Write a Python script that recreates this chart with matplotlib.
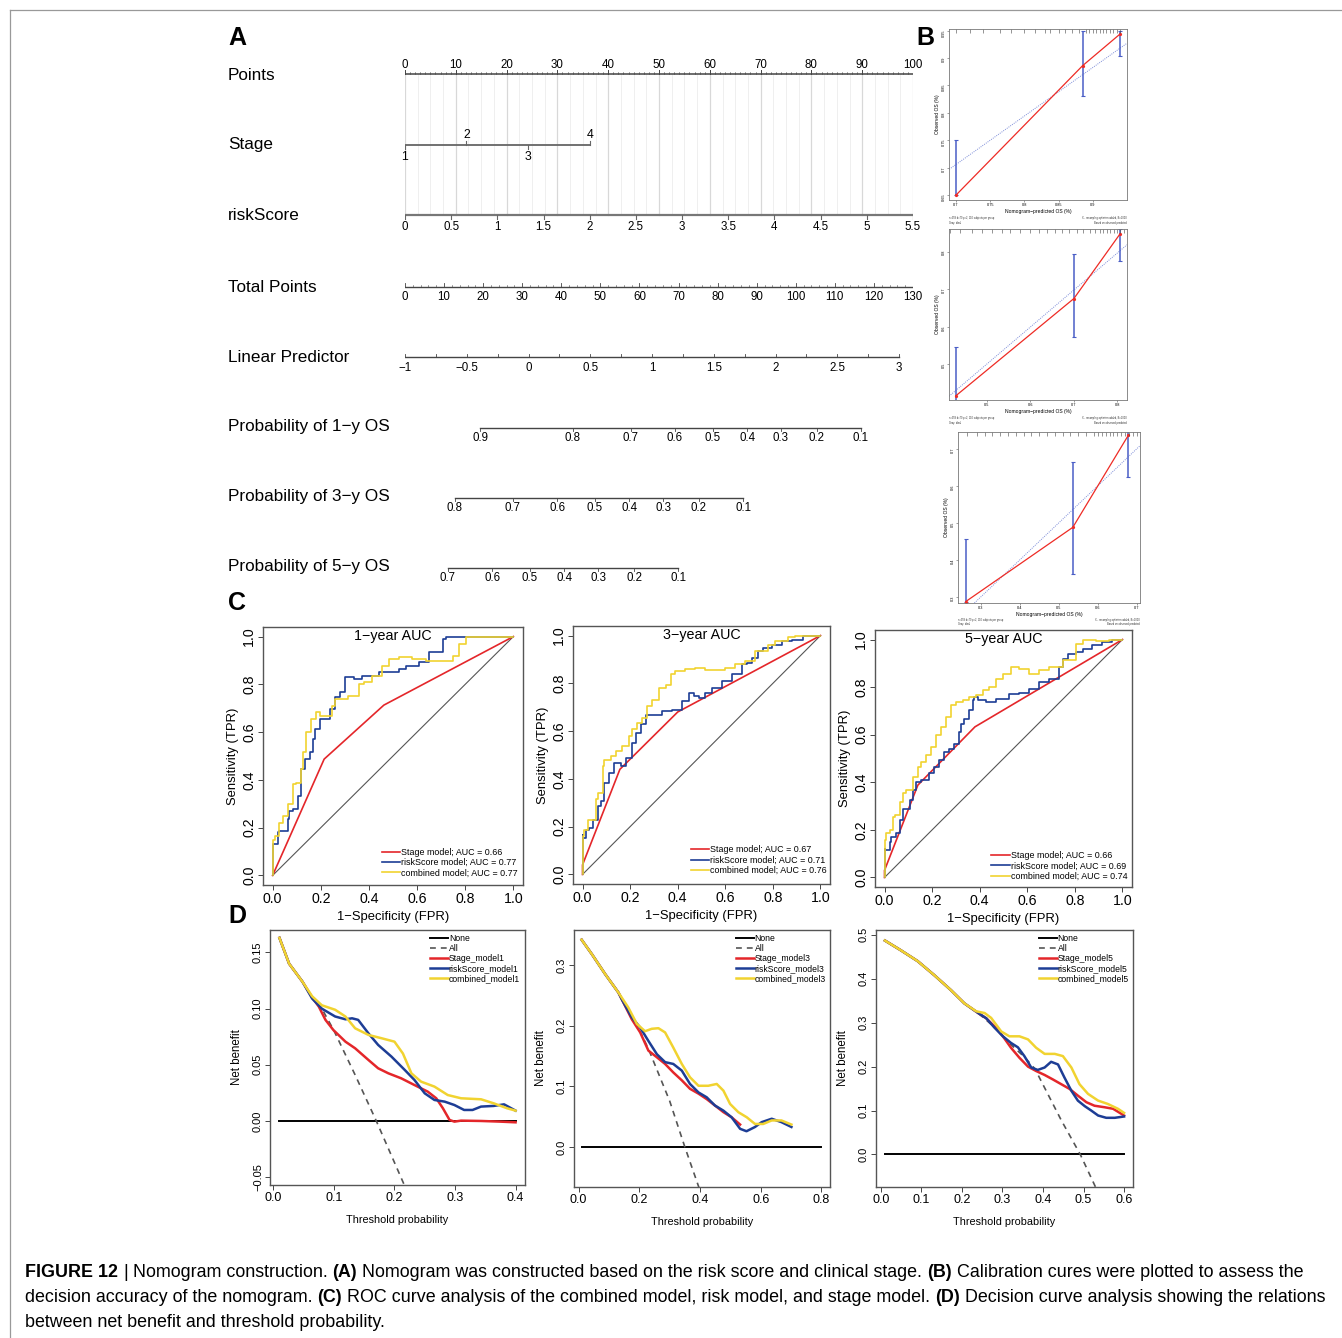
import numpy as np
import matplotlib
matplotlib.use("Agg")
import matplotlib.pyplot as plt
from matplotlib.lines import Line2D

W, H = 1342, 1338
plt.rcParams['font.family'] = ['Liberation Sans', 'DejaVu Sans']
plt.rcParams['axes.unicode_minus'] = True
NARROW = ['Liberation Sans Narrow', 'Liberation Sans', 'DejaVu Sans']
M = '\u2212'

# ======================= DATA =======================
# ---- Panel A: nomogram ----
row_labels = ["Points", "Stage", "riskScore", "Total Points", "Linear Predictor",
              f"Probability of 1{M}y OS", f"Probability of 3{M}y OS", f"Probability of 5{M}y OS"]
points_major = [0, 10, 20, 30, 40, 50, 60, 70, 80, 90, 100]
stage_levels = ["1", "2", "3", "4"]
stage_points = [0.0, 12.1, 24.2, 36.4]
risk_ticks = [0, 0.5, 1, 1.5, 2, 2.5, 3, 3.5, 4, 4.5, 5, 5.5]
risk_ticklabels = ["0", "0.5", "1", "1.5", "2", "2.5", "3", "3.5", "4", "4.5", "5", "5.5"]
risk_max = 5.5                    # riskScore worth 100 points
total_ticks = [0, 10, 20, 30, 40, 50, 60, 70, 80, 90, 100, 110, 120, 130]
total_full = 130.0                # total points at the 100-point width
lp_ticks = [-1, -0.5, 0, 0.5, 1, 1.5, 2, 2.5, 3]
lp_ticklabels = [f"{M}1", f"{M}0.5", "0", "0.5", "1", "1.5", "2", "2.5", "3"]
lp_intercept = -1.0               # linear predictor at 0 total points
lp_per_total = 0.03164            # linear predictor per total point
prob1_ticks = [0.9, 0.8, 0.7, 0.6, 0.5, 0.4, 0.3, 0.2, 0.1]
prob3_ticks = [0.8, 0.7, 0.6, 0.5, 0.4, 0.3, 0.2, 0.1]
prob5_ticks = [0.7, 0.6, 0.5, 0.4, 0.3, 0.2, 0.1]
base_cumhaz = [0.156, 0.405, 0.685]   # baseline cumulative hazard at 1, 3, 5 years

# ---- Panel B: calibration ----
cal1_pred = [0.700, 0.885, 0.940]
cal1_obs = [0.650, 0.886, 0.944]
cal1_lo = [0.650, 0.830, 0.904]
cal1_hi = [0.750, 0.950, 0.950]
cal1_ideal_x = [0.69, 0.95]
cal1_ideal_y = [0.697, 0.927]
cal1_rug = [0.70, 0.72, 0.74, 0.765, 0.78, 0.80, 0.815, 0.83, 0.838, 0.85, 0.86, 0.87,
            0.88, 0.89, 0.895, 0.90, 0.905, 0.91, 0.915, 0.92, 0.925, 0.93, 0.935, 0.94]

cal2_pred = [0.429, 0.700, 0.806]
cal2_obs = [0.4165, 0.675, 0.847]
cal2_lo = [0.38, 0.573, 0.774]
cal2_hi = [0.545, 0.793, 0.86]
cal2_ideal_x = [0.413, 0.822]
cal2_ideal_y = [0.415, 0.818]
cal2_rug = [0.416, 0.439, 0.466, 0.489, 0.512, 0.535, 0.554, 0.577, 0.60, 0.619, 0.638,
            0.657, 0.672, 0.688, 0.707, 0.722, 0.738, 0.749, 0.761, 0.768, 0.776, 0.784,
            0.791, 0.799, 0.807, 0.814]

cal3_pred = [0.262, 0.536, 0.678]
cal3_obs = [0.288, 0.488, 0.736]
cal3_lo = [0.288, 0.362, 0.624]
cal3_hi = [0.456, 0.665, 0.76]
cal3_ideal_x = [0.284, 0.708]
cal3_ideal_y = [0.284, 0.708]
cal3_rug = [0.264, 0.29, 0.31, 0.33, 0.35, 0.37, 0.39, 0.41, 0.43, 0.45, 0.47, 0.49, 0.51,
            0.53, 0.55, 0.57, 0.59, 0.60, 0.61, 0.62, 0.63, 0.64, 0.65, 0.66, 0.67, 0.68,
            0.69, 0.70]

# ---- Panel C: ROC ----
roc1_stage_fpr = [0, 0.214, 0.462, 1.0]
roc1_stage_tpr = [0, 0.487, 0.713, 1.0]
roc1_risk_fpr = [0, 0, 0.021, 0.028, 0.063, 0.07, 0.084, 0.105, 0.119, 0.133, 0.154, 0.168,
                 0.175, 0.196, 0.238, 0.259, 0.28, 0.30, 0.336, 0.371, 0.385, 0.44, 0.468,
                 0.524, 0.552, 0.608, 0.65, 0.664, 0.706, 0.72, 0.748, 0.85, 1.0]
roc1_risk_tpr = [0, 0.11, 0.13, 0.18, 0.186, 0.235, 0.27, 0.277, 0.333, 0.445, 0.487, 0.515,
                 0.57, 0.613, 0.655, 0.697, 0.745, 0.77, 0.83, 0.822, 0.836, 0.836, 0.85,
                 0.85, 0.864, 0.878, 0.892, 0.934, 0.934, 0.99, 1.0, 1.0, 1.0]
roc1_comb_fpr = [0, 0, 0.01, 0.028, 0.042, 0.063, 0.084, 0.098, 0.119, 0.126, 0.14, 0.161,
                 0.182, 0.196, 0.245, 0.259, 0.287, 0.315, 0.357, 0.378, 0.413, 0.455, 0.483,
                 0.524, 0.58, 0.636, 0.678, 0.748, 0.776, 0.804, 0.839, 1.0]
roc1_comb_tpr = [0, 0.095, 0.15, 0.165, 0.22, 0.25, 0.30, 0.382, 0.389, 0.445, 0.515, 0.60,
                 0.655, 0.683, 0.669, 0.71, 0.738, 0.738, 0.752, 0.80, 0.808, 0.836, 0.878,
                 0.906, 0.913, 0.906, 0.899, 0.899, 0.92, 0.97, 1.0, 1.0]

roc3_stage_fpr = [0, 0, 0.157, 0.40, 1.0]
roc3_stage_tpr = [0, 0.04, 0.44, 0.68, 1.0]
roc3_risk_fpr = [0, 0, 0.014, 0.028, 0.042, 0.063, 0.077, 0.091, 0.112, 0.132, 0.16, 0.181,
                 0.209, 0.223, 0.244, 0.265, 0.30, 0.335, 0.377, 0.418, 0.446, 0.467, 0.488,
                 0.516, 0.544, 0.586, 0.628, 0.67, 0.69, 0.711, 0.739, 0.76, 0.795, 0.837,
                 0.879, 0.927, 1.0]
roc3_risk_tpr = [0, 0.167, 0.153, 0.188, 0.195, 0.23, 0.286, 0.307, 0.384, 0.425, 0.467, 0.453,
                 0.488, 0.55, 0.593, 0.628, 0.669, 0.669, 0.683, 0.69, 0.725, 0.76, 0.746,
                 0.739, 0.76, 0.78, 0.809, 0.837, 0.879, 0.886, 0.906, 0.934, 0.948, 0.962,
                 0.976, 0.983, 1.0]
roc3_comb_fpr = [0, 0, 0.007, 0.021, 0.042, 0.056, 0.063, 0.084, 0.091, 0.119, 0.139, 0.167,
                 0.195, 0.209, 0.23, 0.251, 0.272, 0.293, 0.321, 0.349, 0.37, 0.39, 0.432,
                 0.474, 0.516, 0.60, 0.642, 0.683, 0.725, 0.781, 0.809, 0.865, 0.893, 0.962, 1.0]
roc3_comb_tpr = [0, 0.119, 0.16, 0.188, 0.23, 0.23, 0.314, 0.342, 0.453, 0.481, 0.495, 0.516,
                 0.537, 0.579, 0.607, 0.635, 0.656, 0.704, 0.732, 0.781, 0.795, 0.837, 0.851,
                 0.861, 0.865, 0.855, 0.865, 0.879, 0.893, 0.934, 0.962, 0.976, 0.994, 0.997, 1.0]

roc5_stage_fpr = [0, 0, 0.14, 0.38, 1.0]
roc5_stage_tpr = [0, 0.03, 0.388, 0.633, 1.0]
roc5_risk_fpr = [0, 0, 0.003, 0.021, 0.028, 0.049, 0.063, 0.077, 0.105, 0.119, 0.133, 0.154,
                 0.189, 0.21, 0.231, 0.252, 0.273, 0.294, 0.315, 0.322, 0.336, 0.357, 0.371,
                 0.378, 0.392, 0.427, 0.469, 0.524, 0.566, 0.608, 0.65, 0.692, 0.734, 0.748,
                 0.769, 0.804, 0.832, 0.874, 0.916, 0.958, 1.0]
roc5_risk_tpr = [0, 0.045, 0.118, 0.115, 0.15, 0.171, 0.185, 0.241, 0.286, 0.325, 0.367, 0.402,
                 0.409, 0.437, 0.465, 0.493, 0.528, 0.542, 0.563, 0.612, 0.647, 0.668, 0.703,
                 0.745, 0.759, 0.745, 0.738, 0.752, 0.77, 0.776, 0.794, 0.822, 0.836, 0.885,
                 0.92, 0.941, 0.948, 0.962, 0.976, 0.99, 1.0]
roc5_comb_fpr = [0, 0, 0.007, 0.021, 0.035, 0.042, 0.063, 0.077, 0.091, 0.119, 0.14, 0.154,
                 0.175, 0.196, 0.217, 0.238, 0.259, 0.28, 0.301, 0.329, 0.357, 0.385, 0.413,
                 0.441, 0.469, 0.497, 0.531, 0.566, 0.608, 0.65, 0.692, 0.748, 0.804, 0.832,
                 0.888, 0.944, 1.0]
roc5_comb_tpr = [0, 0.073, 0.157, 0.185, 0.199, 0.255, 0.262, 0.318, 0.353, 0.367, 0.423, 0.465,
                 0.486, 0.514, 0.549, 0.598, 0.633, 0.675, 0.724, 0.738, 0.745, 0.759, 0.766,
                 0.787, 0.801, 0.836, 0.857, 0.885, 0.878, 0.857, 0.871, 0.885, 0.913, 0.983,
                 1.0, 0.994, 1.0]

roc_titles = [f"1{M}year AUC", f"3{M}year AUC", f"5{M}year AUC"]
roc_auc = [(0.66, 0.77, 0.77), (0.67, 0.71, 0.76), (0.66, 0.69, 0.74)]

# ---- Panel D: decision curves ----
dca1_none_x = [0.01, 0.40]
dca1_none_y = [0.0, 0.0]
dca1_all_x = [0.01, 0.026, 0.048, 0.064, 0.080, 0.0995, 0.135, 0.17, 0.215, 0.23]
dca1_all_y = [0.163, 0.140, 0.124, 0.110, 0.100, 0.081, 0.041, 0.0, -0.0555, -0.075]
dca1_stage_x = [0.01, 0.026, 0.048, 0.064, 0.075, 0.086, 0.099, 0.119, 0.135, 0.157, 0.173,
                0.190, 0.211, 0.233, 0.255, 0.269, 0.280, 0.291, 0.299, 0.310, 0.343, 0.375, 0.400]
dca1_stage_y = [0.163, 0.140, 0.124, 0.110, 0.1018, 0.090, 0.081, 0.0706, 0.0647, 0.0543,
                0.0469, 0.0424, 0.038, 0.032, 0.0261, 0.0202, 0.0113, 0.0009, -0.0006, 0.0003,
                0.0, -0.0006, -0.0012]
dca1_risk_x = [0.01, 0.026, 0.048, 0.064, 0.080, 0.102, 0.119, 0.130, 0.140, 0.157, 0.173,
               0.195, 0.217, 0.233, 0.250, 0.266, 0.283, 0.299, 0.315, 0.329, 0.343, 0.364,
               0.381, 0.400]
dca1_risk_y = [0.163, 0.140, 0.124, 0.109, 0.100, 0.093, 0.0905, 0.0914, 0.090, 0.078, 0.0677,
               0.0573, 0.0454, 0.0365, 0.0246, 0.0187, 0.0172, 0.0142, 0.0098, 0.0098, 0.0128,
               0.0134, 0.0148, 0.0092]
dca1_comb_x = [0.01, 0.026, 0.048, 0.064, 0.080, 0.102, 0.119, 0.135, 0.157, 0.179, 0.200,
               0.214, 0.228, 0.244, 0.266, 0.288, 0.310, 0.343, 0.364, 0.386, 0.400]
dca1_comb_y = [0.163, 0.140, 0.124, 0.111, 0.103, 0.099, 0.093, 0.0825, 0.0766, 0.0736, 0.0706,
               0.060, 0.0424, 0.035, 0.0306, 0.0231, 0.0202, 0.0193, 0.0157, 0.0113, 0.0092]

dca3_none_x = [0.01, 0.80]
dca3_none_y = [0.0, 0.0]
dca3_all_x = [0.01, 0.044, 0.088, 0.131, 0.175, 0.203, 0.23, 0.30, 0.35, 0.40]
dca3_all_y = [0.342, 0.318, 0.285, 0.255, 0.214, 0.19, 0.162, 0.076, 0.0, -0.072]
dca3_stage_x = [0.01, 0.044, 0.088, 0.131, 0.142, 0.175, 0.203, 0.230, 0.258, 0.285, 0.312,
                0.340, 0.367, 0.395, 0.422, 0.449, 0.477, 0.504, 0.532]
dca3_stage_y = [0.342, 0.318, 0.285, 0.255, 0.244, 0.211, 0.189, 0.159, 0.148, 0.137, 0.123,
                0.110, 0.096, 0.088, 0.079, 0.0685, 0.0575, 0.049, 0.037]
dca3_risk_x = [0.01, 0.044, 0.088, 0.131, 0.142, 0.175, 0.203, 0.230, 0.258, 0.285, 0.312,
               0.340, 0.367, 0.395, 0.422, 0.449, 0.477, 0.504, 0.532, 0.553, 0.581, 0.603,
               0.636, 0.668, 0.701]
dca3_risk_y = [0.342, 0.318, 0.285, 0.255, 0.244, 0.214, 0.197, 0.175, 0.153, 0.140, 0.137,
               0.126, 0.104, 0.090, 0.082, 0.0685, 0.060, 0.049, 0.030, 0.026, 0.033, 0.041,
               0.0466, 0.041, 0.033]
dca3_comb_x = [0.01, 0.044, 0.088, 0.131, 0.164, 0.192, 0.219, 0.241, 0.263, 0.285, 0.312,
               0.340, 0.367, 0.395, 0.427, 0.455, 0.477, 0.499, 0.526, 0.554, 0.581, 0.608,
               0.636, 0.668, 0.701]
dca3_comb_y = [0.342, 0.318, 0.285, 0.255, 0.230, 0.203, 0.191, 0.195, 0.196, 0.189, 0.164,
               0.137, 0.115, 0.101, 0.101, 0.104, 0.093, 0.071, 0.0575, 0.049, 0.038, 0.038,
               0.0438, 0.0438, 0.037]

dca5_none_x = [0.01, 0.60]
dca5_none_y = [0.0, 0.0]
dca5_all_x = [0.01, 0.049, 0.091, 0.132, 0.173, 0.206, 0.240, 0.280, 0.321, 0.354, 0.38,
              0.445, 0.492, 0.53]
dca5_all_y = [0.487, 0.465, 0.440, 0.408, 0.374, 0.344, 0.322, 0.290, 0.250, 0.222, 0.195,
              0.078, 0.0, -0.075]
dca5_stage_x = [0.01, 0.049, 0.091, 0.132, 0.173, 0.206, 0.240, 0.260, 0.280, 0.301, 0.321,
                0.342, 0.363, 0.383, 0.404, 0.424, 0.445, 0.466, 0.486, 0.507, 0.527, 0.552,
                0.573, 0.600]
dca5_stage_y = [0.487, 0.465, 0.440, 0.408, 0.374, 0.344, 0.322, 0.310, 0.292, 0.269, 0.243,
                0.220, 0.200, 0.190, 0.181, 0.171, 0.160, 0.149, 0.134, 0.119, 0.111, 0.1075,
                0.104, 0.0887]
dca5_risk_x = [0.01, 0.049, 0.091, 0.132, 0.173, 0.206, 0.240, 0.260, 0.280, 0.301, 0.321,
               0.338, 0.354, 0.371, 0.387, 0.404, 0.420, 0.437, 0.453, 0.470, 0.486, 0.503,
               0.519, 0.536, 0.556, 0.577, 0.600]
dca5_risk_y = [0.487, 0.465, 0.440, 0.408, 0.374, 0.344, 0.322, 0.310, 0.289, 0.269, 0.254,
               0.244, 0.224, 0.198, 0.1925, 0.198, 0.211, 0.205, 0.175, 0.145, 0.1226, 0.110,
               0.100, 0.0887, 0.0835, 0.0835, 0.0865]
dca5_comb_x = [0.01, 0.049, 0.091, 0.132, 0.173, 0.206, 0.235, 0.256, 0.272, 0.297, 0.317,
               0.342, 0.363, 0.383, 0.404, 0.429, 0.449, 0.470, 0.490, 0.511, 0.536, 0.560,
               0.585, 0.600]
dca5_comb_y = [0.487, 0.465, 0.440, 0.408, 0.374, 0.344, 0.326, 0.322, 0.311, 0.280, 0.269,
               0.269, 0.262, 0.243, 0.229, 0.229, 0.224, 0.198, 0.160, 0.138, 0.1226, 0.115,
               0.104, 0.0947]

caption_lines = [
    [("FIGURE 12", True), (" | ", False), ("Nomogram construction. ", False), ("(A)", True),
     (" Nomogram was constructed based on the risk score and clinical stage. ", False),
     ("(B)", True), (" Calibration cures were plotted to assess the", False)],
    [("decision accuracy of the nomogram. ", False), ("(C)", True),
     (" ROC curve analysis of the combined model, risk model, and stage model. ", False),
     ("(D)", True), (" Decision curve analysis showing the relations", False)],
    [("between net benefit and threshold probability.", False)],
]

# ======================= STYLE =======================
RED = '#E4262A'
BLUE = '#1D3D95'
YEL = '#F1D330'
FRAME = '#555555'

fig = plt.figure(figsize=(W / 100, H / 100), dpi=100)


def add_ax(l, t, r, b):
    return fig.add_axes([l / W, 1 - b / H, (r - l) / W, (b - t) / H])


# figure border
fig.add_artist(Line2D([10 / W, 1], [1 - 10 / H, 1 - 10 / H], transform=fig.transFigure,
                      color='#999999', lw=0.9))
fig.add_artist(Line2D([10 / W, 10 / W], [0, 1 - 10 / H], transform=fig.transFigure,
                      color='#999999', lw=0.9))

# panel letters
for letter, (px, py) in zip("ABCD", [(237, 38), (925, 38), (237, 603), (237, 916)]):
    fig.text(px / W, 1 - py / H, letter, fontsize=18, fontweight='bold', ha='center', va='center')

# ======================= PANEL A =======================
axN = add_ax(405, 20, 913, 600)
axN.set_xlim(0, 100)
axN.set_ylim(600, 20)
axN.axis('off')
row_y = [74, 145, 215, 287, 357, 428, 498, 568]
label_y = [76, 145, 216, 287, 357, 426, 496, 566]
for lab, yy in zip(row_labels, label_y):
    fig.text(228 / W, 1 - yy / H, lab, fontsize=12.3, ha='left', va='center')

TFS = 8.3
LC = '#444444'
# grid lines
for g in np.arange(0, 100.1, 2.5):
    major = abs(g % 10) < 1e-6
    axN.plot([g, g], [row_y[0], row_y[2]], color='#d8d8d8' if major else '#efefef',
             lw=0.9 if major else 0.7, zorder=0)
# Points axis
axN.plot([0, 100], [row_y[0]] * 2, color=LC, lw=1.1)
for p in range(0, 101):
    major = p % 10 == 0
    axN.plot([p, p], [row_y[0], row_y[0] - (4 if major else 1.8)], color=LC,
             lw=0.7 if major else 0.4)
for p in points_major:
    axN.text(p, 65, str(p), ha='center', va='center', fontsize=TFS, family=NARROW)
# Stage axis
axN.plot([stage_points[0], stage_points[-1]], [row_y[1]] * 2, color='#666666', lw=1.3)
for i, (lv, sp) in enumerate(zip(stage_levels, stage_points)):
    up = (i % 2 == 1)
    axN.plot([sp, sp], [row_y[1], row_y[1] + (-4 if up else 4)], color='#666666', lw=0.8)
    axN.text(sp, 135 if up else 157, lv, ha='center', va='center', fontsize=TFS + 0.5, family=NARROW)
# riskScore axis
axN.plot([0, 100], [row_y[2]] * 2, color='#777777', lw=1.6)
for v, lab in zip(risk_ticks, risk_ticklabels):
    xx = v * 100 / risk_max
    axN.plot([xx, xx], [row_y[2], row_y[2] + 4], color='#666666', lw=0.8)
    axN.text(xx, 227, lab, ha='center', va='center', fontsize=TFS, family=NARROW)
# Total points axis
axN.plot([0, 100], [row_y[3]] * 2, color=LC, lw=1.0)
for t in range(0, 131, 2):
    xx = t * 100 / total_full
    axN.plot([xx, xx], [row_y[3], row_y[3] - (3.5 if t % 10 == 0 else 2)], color=LC,
             lw=0.6 if t % 10 == 0 else 0.4)
for t in total_ticks:
    axN.text(t * 100 / total_full, 297, str(t), ha='center', va='center', fontsize=TFS, family=NARROW)


def lp_to_x(lp):
    return (np.asarray(lp) - lp_intercept) / lp_per_total * 100 / total_full


# Linear predictor
axN.plot([lp_to_x(lp_ticks[0]), lp_to_x(lp_ticks[-1])], [row_y[4]] * 2, color=LC, lw=1.0)
for v in np.arange(lp_ticks[0], lp_ticks[-1] + 0.01, 0.25):
    xx = lp_to_x(v)
    axN.plot([xx, xx], [row_y[4], row_y[4] - 3], color=LC, lw=0.6)
for v, lab in zip(lp_ticks, lp_ticklabels):
    axN.text(lp_to_x(v), 368, lab, ha='center', va='center', fontsize=TFS, family=NARROW)
# probability axes
for ticks, H0, yy in zip([prob1_ticks, prob3_ticks, prob5_ticks], base_cumhaz, row_y[5:]):
    xs = lp_to_x(np.log(-np.log(np.array(ticks)) / H0))
    axN.plot([xs.min(), xs.max()], [yy, yy], color=LC, lw=1.0)
    for xx, tv in zip(xs, ticks):
        axN.plot([xx, xx], [yy, yy + 3], color=LC, lw=0.6)
        axN.text(xx, yy + 10, f"{tv:.1f}", ha='center', va='center', fontsize=TFS, family=NARROW)


# ======================= PANEL B =======================
def calib(box, xlim, ylim, xt, yt, pred, obs, lo, hi, ix, iy, rug, noteoff):
    ax = add_ax(*box)
    ax.set_xlim(*xlim)
    ax.set_ylim(*ylim)
    ax.plot(ix, iy, ls=(0, (1, 1.2)), color='#7C8CD8', lw=0.7)
    pred = np.array(pred); obs = np.array(obs)
    ax.errorbar(pred, obs, yerr=[obs - np.array(lo), np.array(hi) - obs], fmt='none',
                ecolor='#4A5EC6', elinewidth=1.1, capsize=1.6, capthick=0.8)
    ax.plot(pred, obs, color='#EE2B25', lw=0.9, marker='o', ms=1.3)
    ax.vlines(rug, 0.975, 1.0, transform=ax.get_xaxis_transform(), color='#444444', lw=0.4)
    ax.set_xticks(xt, [f"{v:.2f}" if len(str(v)) > 3 else f"{v:.1f}" for v in xt])
    ax.set_yticks(yt, [f"{v:.2f}" if len(str(v)) > 3 else f"{v:.1f}" for v in yt])
    ax.tick_params(length=1.5, width=0.4, labelsize=2.8, pad=1, color='#555555')
    ax.tick_params(axis='y', labelrotation=90)
    for s in ax.spines.values():
        s.set_color('#777777'); s.set_linewidth(0.6)
    ax.set_xlabel(f"Nomogram{M}predicted OS (%)", fontsize=3.6, labelpad=1)
    ax.set_ylabel("Observed OS (%)", fontsize=3.6, labelpad=1)
    ax.text(0.0, noteoff, "n=359 d=79 p=2, 110 subjects per group\nGray: ideal", transform=ax.transAxes,
            fontsize=1.8, ha='left', va='top', color='#333333')
    ax.text(1.0, noteoff, "X - resampling optimism added, B=1000\nBased on observed-predicted",
            transform=ax.transAxes, fontsize=1.8, ha='right', va='top', color='#333333')
    return ax


calib((949, 29, 1127, 200), (0.6897, 0.95), (0.641, 0.953), [0.70, 0.75, 0.80, 0.85, 0.90],
      [0.65, 0.70, 0.75, 0.80, 0.85, 0.90, 0.95], cal1_pred, cal1_obs, cal1_lo, cal1_hi,
      cal1_ideal_x, cal1_ideal_y, cal1_rug, -0.095)
calib((949, 229, 1127, 400), (0.413, 0.822), (0.405, 0.860), [0.5, 0.6, 0.7, 0.8],
      [0.5, 0.6, 0.7, 0.8], cal2_pred, cal2_obs, cal2_lo, cal2_hi,
      cal2_ideal_x, cal2_ideal_y, cal2_rug, -0.095)
calib((958, 432, 1140, 603), (0.242, 0.708), (0.284, 0.745), [0.3, 0.4, 0.5, 0.6, 0.7],
      [0.3, 0.4, 0.5, 0.6, 0.7], cal3_pred, cal3_obs, cal3_lo, cal3_hi,
      cal3_ideal_x, cal3_ideal_y, cal3_rug, -0.085)

# ======================= PANEL C =======================
roc_boxes = [(263, 627, 523, 885), (573, 626, 830, 884), (875, 630, 1132, 887)]
roc_data = [
    (roc1_stage_fpr, roc1_stage_tpr, roc1_risk_fpr, roc1_risk_tpr, roc1_comb_fpr, roc1_comb_tpr),
    (roc3_stage_fpr, roc3_stage_tpr, roc3_risk_fpr, roc3_risk_tpr, roc3_comb_fpr, roc3_comb_tpr),
    (roc5_stage_fpr, roc5_stage_tpr, roc5_risk_fpr, roc5_risk_tpr, roc5_comb_fpr, roc5_comb_tpr),
]
leg_anchor = [(0.4565, 0.144), (0.458, 0.150), (0.4525, 0.139)]
for box, d, title, aucs, la in zip(roc_boxes, roc_data, roc_titles, roc_auc, leg_anchor):
    ax = add_ax(*box)
    ax.set_xlim(-0.04, 1.04)
    ax.set_ylim(-0.04, 1.04)
    ax.plot([0, 1], [0, 1], color='#555555', lw=0.8)
    h1, = ax.plot(d[0], d[1], color=RED, lw=1.2)
    h2, = ax.plot(d[2], d[3], color=BLUE, lw=1.2, drawstyle='steps-pre')
    h3, = ax.plot(d[4], d[5], color=YEL, lw=1.2, drawstyle='steps-pre')
    ax.legend([h1, h2, h3], [f"Stage model; AUC = {aucs[0]:.2f}",
                             f"riskScore model; AUC = {aucs[1]:.2f}",
                             f"combined model; AUC = {aucs[2]:.2f}"],
              loc='upper left', bbox_to_anchor=la, frameon=False, fontsize=6.4,
              handlelength=2.1, handletextpad=0.1, labelspacing=0.15, borderpad=0,
              borderaxespad=0)
    ax.text(0.5, 0.965, title, transform=ax.transAxes, ha='center', va='center', fontsize=10.3)
    ticks = [0, 0.2, 0.4, 0.6, 0.8, 1.0]
    ax.set_xticks(ticks, [f"{t:.1f}" for t in ticks])
    ax.set_yticks(ticks, [f"{t:.1f}" for t in ticks])
    ax.tick_params(length=3.5, width=0.7, labelsize=10.2, pad=1.5, color='#444444')
    ax.tick_params(axis='y', labelrotation=90)
    for lab in ax.get_yticklabels():
        lab.set_va('center')
    for s in ax.spines.values():
        s.set_color(FRAME); s.set_linewidth(1.0)
    ax.set_xlabel(f"1{M}Specificity (FPR)", fontsize=9.4)
    ax.set_ylabel("Sensitivity (TPR)", fontsize=9.4)
    ax.xaxis.set_label_coords(0.5, -0.10)
    ax.yaxis.set_label_coords(-0.094, 0.5)

# ======================= PANEL D =======================
dca_boxes = [(270, 930, 525, 1185), (574, 930, 830, 1187), (876, 930, 1133, 1187)]
dca_xlim = [(-0.0056, 0.4156), (-0.015, 0.828), (-0.012, 0.622)]
dca_ylim = [(-0.057, 0.170), (-0.066, 0.358), (-0.074, 0.511)]
dca_xt = [[0.0, 0.1, 0.2, 0.3, 0.4], [0.0, 0.2, 0.4, 0.6, 0.8],
          [0.0, 0.1, 0.2, 0.3, 0.4, 0.5, 0.6]]
dca_yt = [[-0.05, 0.0, 0.05, 0.10, 0.15], [0.0, 0.1, 0.2, 0.3],
          [0.0, 0.1, 0.2, 0.3, 0.4, 0.5]]
dca_ytl = [[f"{M}0.05", "0.00", "0.05", "0.10", "0.15"], ["0.0", "0.1", "0.2", "0.3"],
           ["0.0", "0.1", "0.2", "0.3", "0.4", "0.5"]]
dca_data = [
    (dca1_none_x, dca1_none_y, dca1_all_x, dca1_all_y, dca1_stage_x, dca1_stage_y,
     dca1_risk_x, dca1_risk_y, dca1_comb_x, dca1_comb_y),
    (dca3_none_x, dca3_none_y, dca3_all_x, dca3_all_y, dca3_stage_x, dca3_stage_y,
     dca3_risk_x, dca3_risk_y, dca3_comb_x, dca3_comb_y),
    (dca5_none_x, dca5_none_y, dca5_all_x, dca5_all_y, dca5_stage_x, dca5_stage_y,
     dca5_risk_x, dca5_risk_y, dca5_comb_x, dca5_comb_y),
]
dca_leg_x = [0.627, 0.632, 0.633]
for i, (box, d) in enumerate(zip(dca_boxes, dca_data)):
    ax = add_ax(*box)
    ax.set_xlim(*dca_xlim[i])
    ax.set_ylim(*dca_ylim[i])
    h0, = ax.plot(d[0], d[1], color='black', lw=1.4)
    h1, = ax.plot(d[2], d[3], color='#555555', lw=1.2, ls=(0, (3.5, 3)))
    h2, = ax.plot(d[4], d[5], color=RED, lw=1.8)
    h3, = ax.plot(d[6], d[7], color=BLUE, lw=1.8)
    h4, = ax.plot(d[8], d[9], color=YEL, lw=1.8)
    k = [1, 3, 5][i]
    ax.legend([h0, h1, h2, h3, h4], ["None", "All", f"Stage_model{k}", f"riskScore_model{k}",
                                     f"combined_model{k}"],
              loc='upper left', bbox_to_anchor=(dca_leg_x[i], 0.985), frameon=False,
              fontsize=6.2, handlelength=2.1, handletextpad=0.1, labelspacing=0.12,
              borderpad=0, borderaxespad=0)
    ax.set_xticks(dca_xt[i], [f"{t:.1f}" for t in dca_xt[i]])
    ax.set_yticks(dca_yt[i], dca_ytl[i])
    ax.tick_params(length=3.5, width=0.7, pad=1.5, color='#444444')
    ax.tick_params(axis='x', labelsize=9)
    ax.tick_params(axis='y', labelsize=8, labelrotation=90)
    for lab in ax.get_yticklabels():
        lab.set_va('center')
    for s in ax.spines.values():
        s.set_color(FRAME); s.set_linewidth(1.0)
    ax.set_xlabel("Threshold probability", fontsize=7.8)
    ax.set_ylabel("Net benefit", fontsize=8.3)
    ax.xaxis.set_label_coords(0.5, -0.118)
    ax.yaxis.set_label_coords(-0.105, 0.5)

# ======================= CAPTION =======================
renderer = fig.canvas.get_renderer()


def tw(t):
    return t.get_window_extent(renderer=renderer).width


def draw_line(segs, x0, yc, size):
    a = fig.text(0, 0, "a a", fontsize=size)
    b = fig.text(0, 0, "aa", fontsize=size)
    sp = tw(a) - tw(b)
    a.remove(); b.remove()
    x = x0
    out = []
    for s, bold in segs:
        core = s.strip()
        if s.startswith(' '):
            x += sp
        t = fig.text(x / W, 1 - (yc + size * 0.45) / H, core, fontsize=size,
                     fontweight='bold' if bold else 'normal', ha='left', va='baseline')
        x += tw(t)
        if s.endswith(' '):
            x += sp
        out.append(t)
    return out, x - x0


tmp, w2 = draw_line(caption_lines[1], 25, 1296, 13)
for t in tmp:
    t.remove()
cap_size = 13 * 1298 / w2
for segs, yc in zip(caption_lines, [1271, 1296, 1321]):
    draw_line(segs, 25, yc, cap_size)

fig.savefig("out.png", dpi=100)
